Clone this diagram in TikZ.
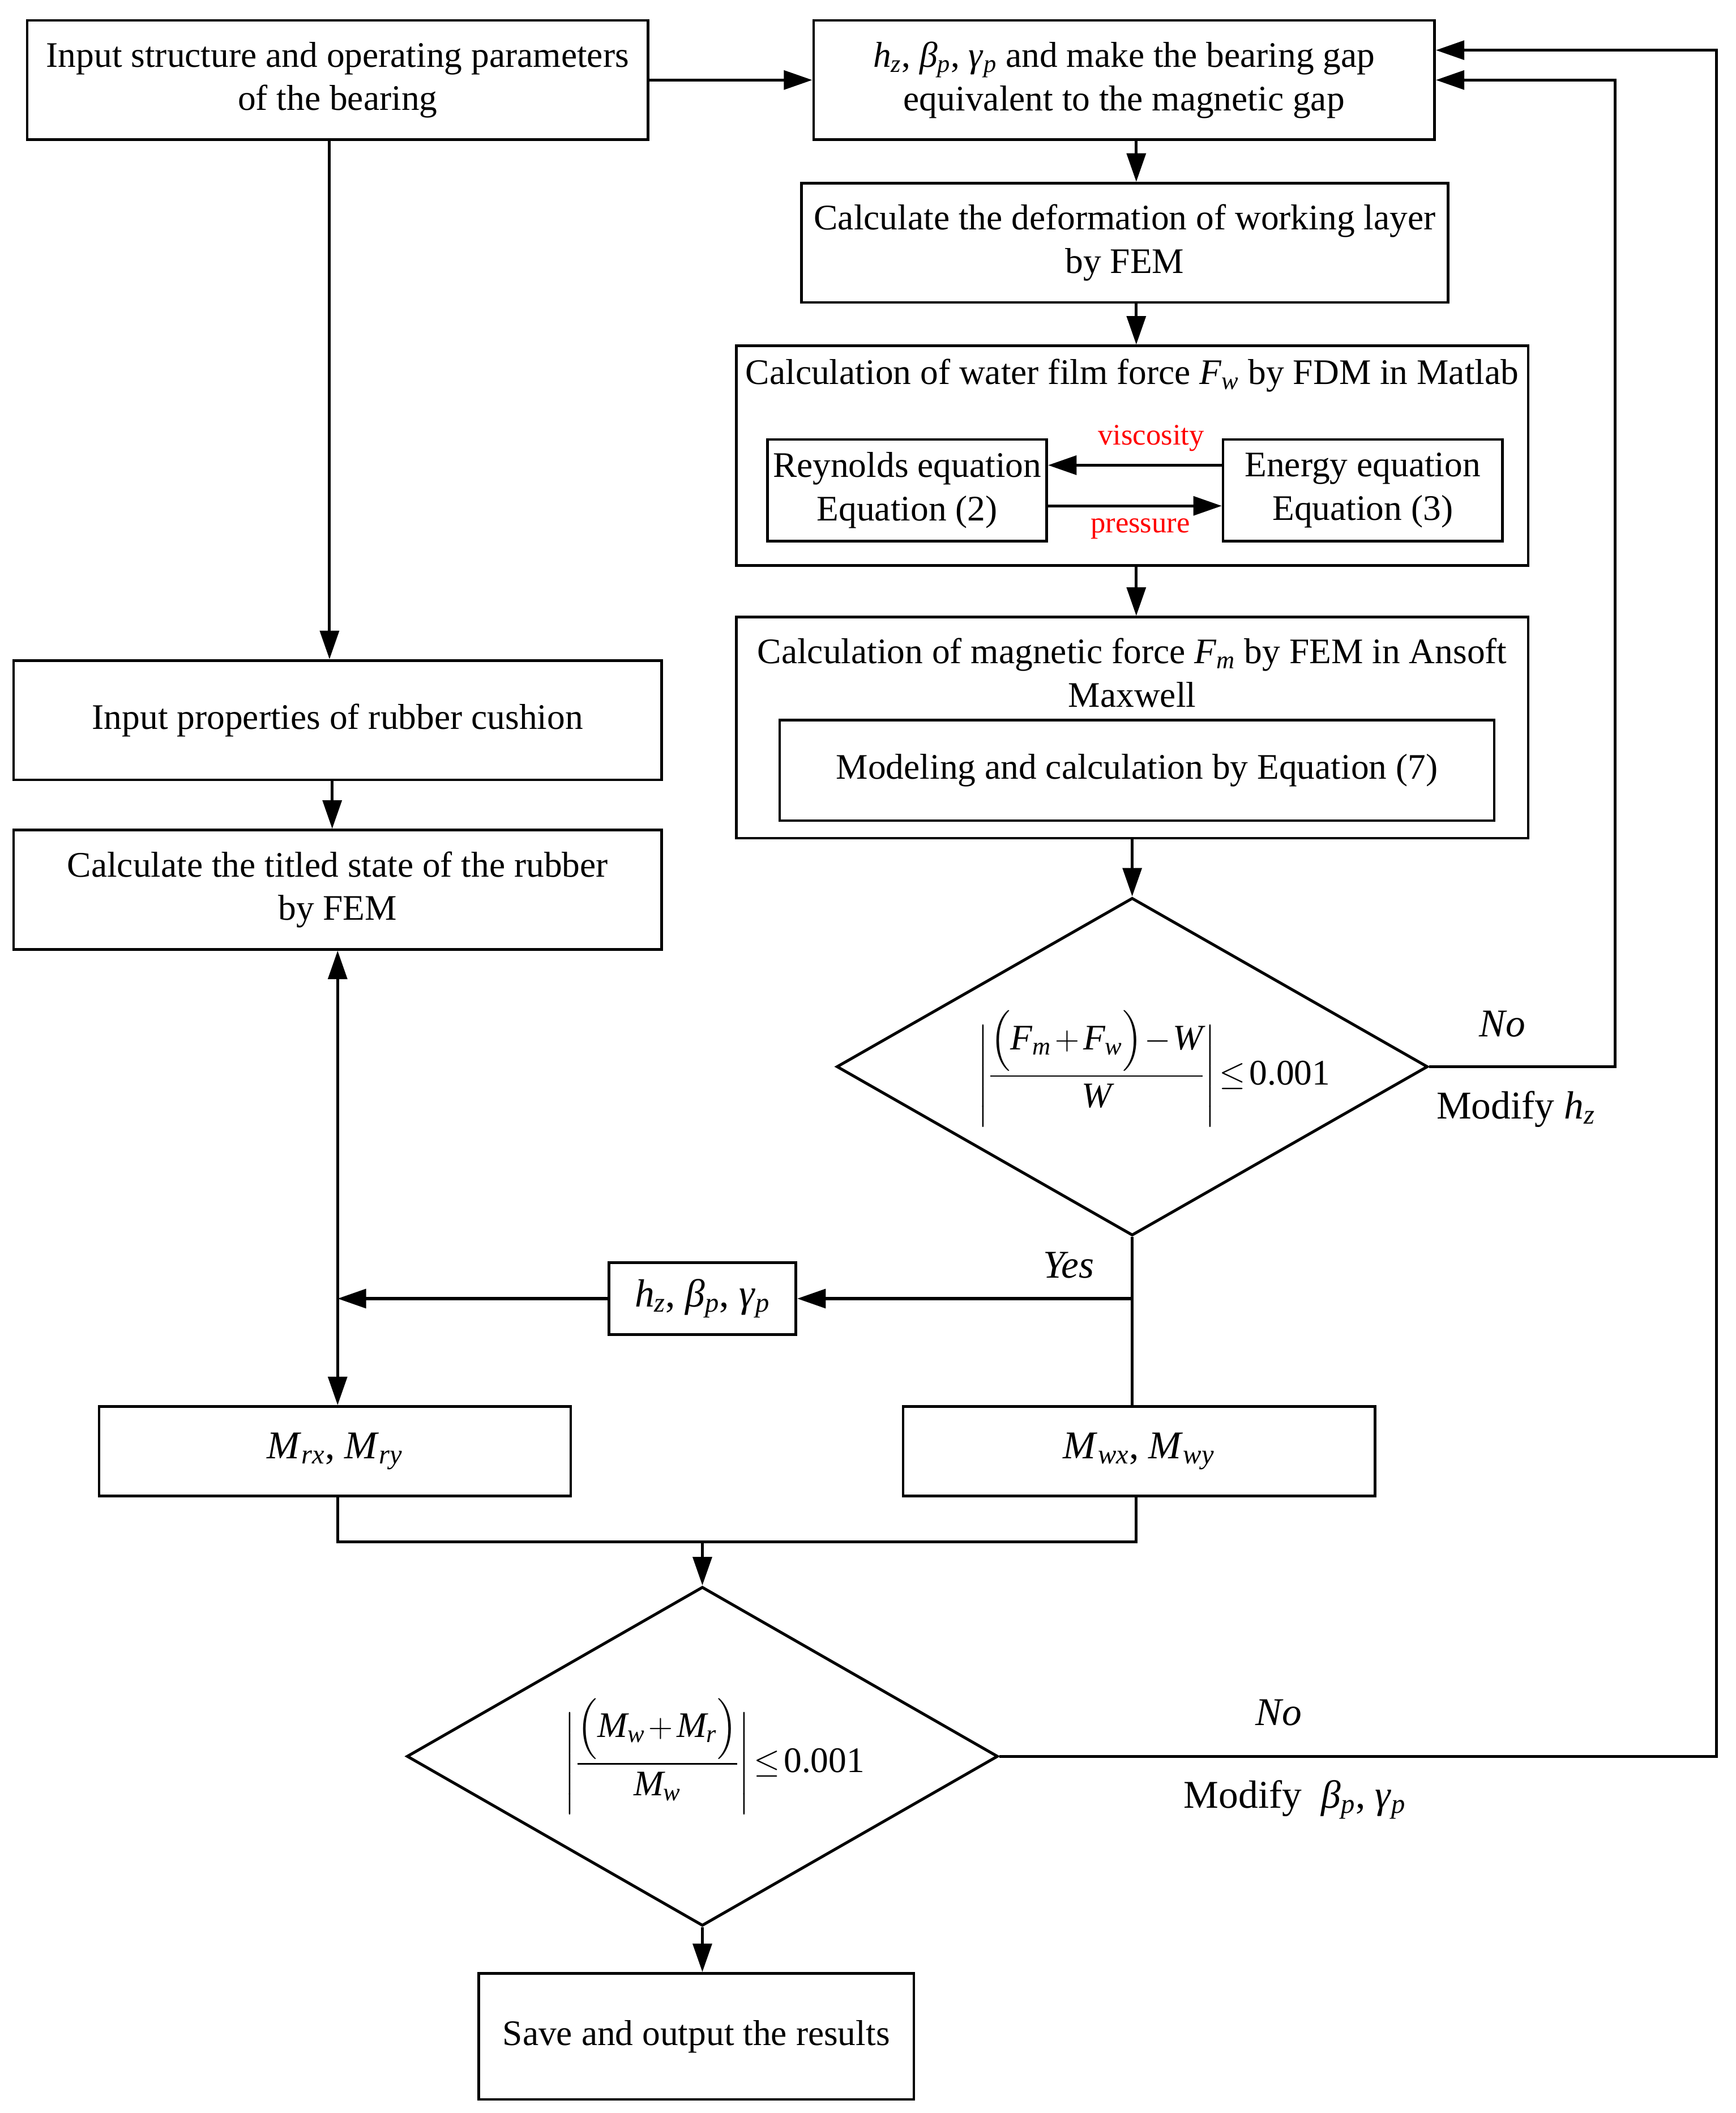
\documentclass[tikz,border=0pt]{standalone}
\usepackage{amsmath}
\usepackage{fontspec}
\setmainfont{Liberation Serif}
\usetikzlibrary{arrows.meta,shapes.geometric}
\newcommand\iv[2]{\textit{#1}\textsubscript{\textit{#2}}}
\newcommand\tplus{\mkern2mu{+}\mkern2mu}
\newcommand\tminus{\mkern1mu{-}\mkern1mu}
\begin{document}
\begin{tikzpicture}[x=1pt,y=-1pt,
  box/.style={draw, line width=1.9pt, align=center, inner sep=0pt, font=\fontsize{26.5}{32}\selectfont},
  txt/.style={align=center, inner sep=0pt, font=\fontsize{26.5}{32}\selectfont},
  lbl/.style={align=center, inner sep=0pt, font=\fontsize{29}{34}\selectfont},
  redlbl/.style={inner sep=0pt, text=red, font=\fontsize{22}{26}\selectfont},
  ln/.style={line width=2.1pt},
  arr/.style={line width=2.1pt, -{Triangle[length=21pt,width=14pt]}},
  dia/.style={diamond, draw, line width=2.1pt, aspect=1.75, inner sep=0pt},
]
\useasboundingbox (0,0) rectangle (1280,1558);
% right column
\node[box, minimum width=458pt, minimum height=88pt] (inp) at (249,59) {Input structure and operating parameters\\of the bearing};
\node[box, minimum width=458pt, minimum height=88pt] (hz) at (829,59) {\iv{h}{z}, \iv{β}{p}, \iv{γ}{p} and make the bearing gap\\equivalent to the magnetic gap};
\node[box, minimum width=477pt, minimum height=88pt] (def) at (829.5,179) {Calculate the deformation of working layer\\by FEM};
\node[box, minimum width=584pt, minimum height=162pt] (wf) at (835,336) {};
\node[txt] (wft) at (835,277) {Calculation of water film force \iv{F}{w} by FDM in Matlab};
\node[box, minimum width=206pt, minimum height=75pt] (rey) at (669,361.5) {Reynolds equation\\Equation (2)};
\node[box, minimum width=206pt, minimum height=75pt] (ene) at (1005,361.5) {Energy equation\\Equation (3)};
\node[redlbl] (visc) at (849,323) {viscosity};
\node[redlbl] (pres) at (841,390) {pressure};
\node[box, minimum width=584pt, minimum height=163pt] (mag) at (835,536.5) {};
\node[txt] (magt) at (835,496) {Calculation of magnetic force \iv{F}{m} by FEM in Ansoft\\Maxwell};
\node[box, minimum width=527pt, minimum height=74pt] (mod) at (838.5,568) {Modeling and calculation by Equation (7)};
\node[dia, minimum width=436pt, minimum height=249pt] (d1) at (835,786.5) {};
\node[txt] (c1) at (851,788) {$\Biggl|\dfrac{\Bigl(\iv{F}{m}\tplus\iv{F}{w}\Bigr)\tminus\textit{W}}{\textit{W}}\Biggr|\mkern2mu{\le}\mkern2mu\textrm{0.001}$};
\node[lbl] (no1) at (1108,755) {\textit{No}};
\node[lbl] (mod1) at (1118,818) {Modify \iv{h}{z}};
% left column
\node[box, minimum width=478pt, minimum height=88pt] (rub) at (249,531) {Input properties of rubber cushion};
\node[box, minimum width=478pt, minimum height=88pt] (tilt) at (249,656) {Calculate the titled state of the rubber\\by FEM};
\node[box, font=\fontsize{29}{34}\selectfont, minimum width=138pt, minimum height=53pt] (hzs) at (518,957.5) {\iv{h}{z}, \iv{β}{p}, \iv{γ}{p}};
\node[lbl] (yes) at (788,933) {\textit{Yes}};
\node[box, font=\fontsize{29}{34}\selectfont, minimum width=348pt, minimum height=66pt] (mr) at (247,1070) {\iv{M}{rx}, \iv{M}{ry}};
\node[box, font=\fontsize{29}{34}\selectfont, minimum width=348pt, minimum height=66pt] (mw) at (840,1070) {\iv{M}{wx}, \iv{M}{wy}};
\node[dia, minimum width=436pt, minimum height=250pt] (d2) at (518,1295) {};
\node[txt] (c2) at (527,1295) {$\Biggl|\dfrac{\Bigl(\iv{M}{w}\tplus\iv{M}{r}\Bigr)}{\iv{M}{w}}\Biggr|\mkern2mu{\le}\mkern2mu\textrm{0.001}$};
\node[lbl] (no2) at (943,1263) {\textit{No}};
\node[lbl] (mod2) at (955,1327) {Modify\ \ \iv{β}{p}, \iv{γ}{p}};
\node[box, minimum width=321pt, minimum height=93pt] (save) at (513.5,1501.5) {Save and output the results};
\coordinate (mj) at (518,1137);
% connectors
\draw[arr] (inp.east) -- (hz.west);
\draw[arr] ([xshift=9pt]hz.south) -- ([xshift=9pt]hz.south |- def.north);
\draw[arr] ([xshift=8.5pt]def.south) -- ([xshift=8.5pt]def.south |- wf.north);
\draw[arr] ([yshift=18.5pt]ene.west) -- ([yshift=18.5pt]rey.east);
\draw[arr] ([yshift=-11.5pt]rey.east) -- ([yshift=-11.5pt]ene.west);
\draw[arr] ([xshift=3pt]wf.south) -- ([xshift=3pt]wf.south |- mag.north);
\draw[arr] (mag.south) -- (d1.north);
\draw[arr] (d1.east) -| ([xshift=132pt]hz.east) -- (hz.east);
\draw[arr] (d2.east) -| ([xshift=207pt,yshift=22pt]hz.east) -- ([yshift=22pt]hz.east);
\draw[arr] ([xshift=-6pt]inp.south) -- ([xshift=-6pt]inp.south |- rub.north);
\draw[arr] ([xshift=-4pt]rub.south) -- ([xshift=-4pt]tilt.north);
\draw[line width=2.1pt, {Triangle[length=21pt,width=14pt]}-{Triangle[length=21pt,width=14pt]}] (tilt.south) -- (tilt.south |- mr.north);
\draw[arr] (hzs.west) -- (tilt.south |- hzs.west);
\draw[ln] (d1.south) -- (d1.south |- mw.north);
\draw[arr] (d1.south |- hzs.east) -- (hzs.east);
\draw[ln] ([xshift=2pt]mr.south) |- (mj) -| ([xshift=-2pt]mw.south);
\draw[arr] (mj) -- (d2.north);
\draw[arr] (d2.south) -- (d2.south |- save.north);
\end{tikzpicture}
\end{document}
